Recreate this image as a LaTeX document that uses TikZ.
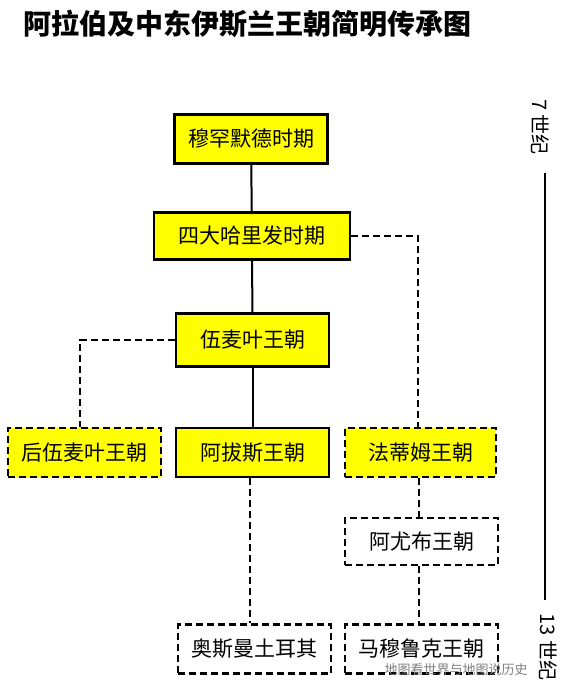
\documentclass[tikz,border=0pt]{standalone}
\usepackage{fontspec}
\setmainfont{Noto Sans CJK SC}
\newfontfamily\cjk{Noto Sans CJK SC}
\usetikzlibrary{positioning}
\definecolor{boxyellow}{RGB}{255,255,0}

\begin{document}
\begin{tikzpicture}[x=1pt,y=-1pt,line cap=butt,
  era/.style={draw,fill=boxyellow,line width=2.5pt,minimum width=153pt,minimum height=49pt,inner sep=0pt,font=\cjk\fontsize{21}{21}\selectfont},
  dynasty/.style={era,line width=2.3pt,dash pattern=on 7pt off 4pt},
  later/.style={dynasty,fill=white},
  solidlink/.style={line width=2pt},
  dashlink/.style={line width=2.3pt,dash pattern=on 7pt off 4pt}]
\useasboundingbox (0,0) rectangle (570,696);

% otsikko
\node [anchor=west,font=\cjk\bfseries\fontsize{28}{28}\selectfont] (title) at (20,24) {阿拉伯及中东伊斯兰王朝简明传承图};

% laatikot
\node [era] (muhammad) at (251,139) {穆罕默德时期};
\node [era,minimum width=196pt,minimum height=47pt] (rashidun) at (252,236) {四大哈里发时期};
\node [era,minimum height=53pt] (umayyad) at (252.5,340) {伍麦叶王朝};
\node [dynasty] (cordoba) at (84.5,452.5) {后伍麦叶王朝};
\node [era] (abbasid) at (252.5,452.5) {阿拔斯王朝};
\node [dynasty,minimum width=151pt] (fatimid) at (420.5,452.5) {法蒂姆王朝};
\node [later,minimum height=47pt] (ayyubid) at (421.5,541.5) {阿尤布王朝};
\node [later] (ottoman) at (254.5,649) {奥斯曼土耳其};
\node [later] (mamluk) at (421.5,649) {马穆鲁克王朝};

% viivat
\draw [solidlink] (muhammad) -- (rashidun);
\draw [solidlink] (rashidun) -- (umayyad);
\draw [solidlink] (umayyad) -- (abbasid);
\draw [dashlink] (rashidun.east) -| (fatimid.north -| 418,0);
\draw [dashlink] (umayyad.west) -| (cordoba.north -| 80,0);
\draw [dashlink] (abbasid.south -| 250,0) -- (ottoman.north -| 250,0);
\draw [dashlink] (fatimid.south -| 419,0) -- (ayyubid.north -| 419,0);
\draw [dashlink] (ayyubid.south -| 419,0) -- (mamluk.north -| 419,0);

% aikajana
\coordinate (t1) at (545,173);
\coordinate (t2) at (545,600);
\draw [line width=2pt] (t1) -- (t2);
\node [rotate=-90,font=\cjk\fontsize{20}{20}\selectfont] (c7) at (540,127) {7 世纪};
\node [rotate=-90,font=\cjk\fontsize{20}{20}\selectfont,anchor=west] (c13) at (548,610) {13 世纪};

\node [text=gray,font=\cjk\fontsize{13}{13}\selectfont,inner sep=0pt] (mark) at (456,670) {地图看世界与地图说历史};
\end{tikzpicture}
\end{document}
